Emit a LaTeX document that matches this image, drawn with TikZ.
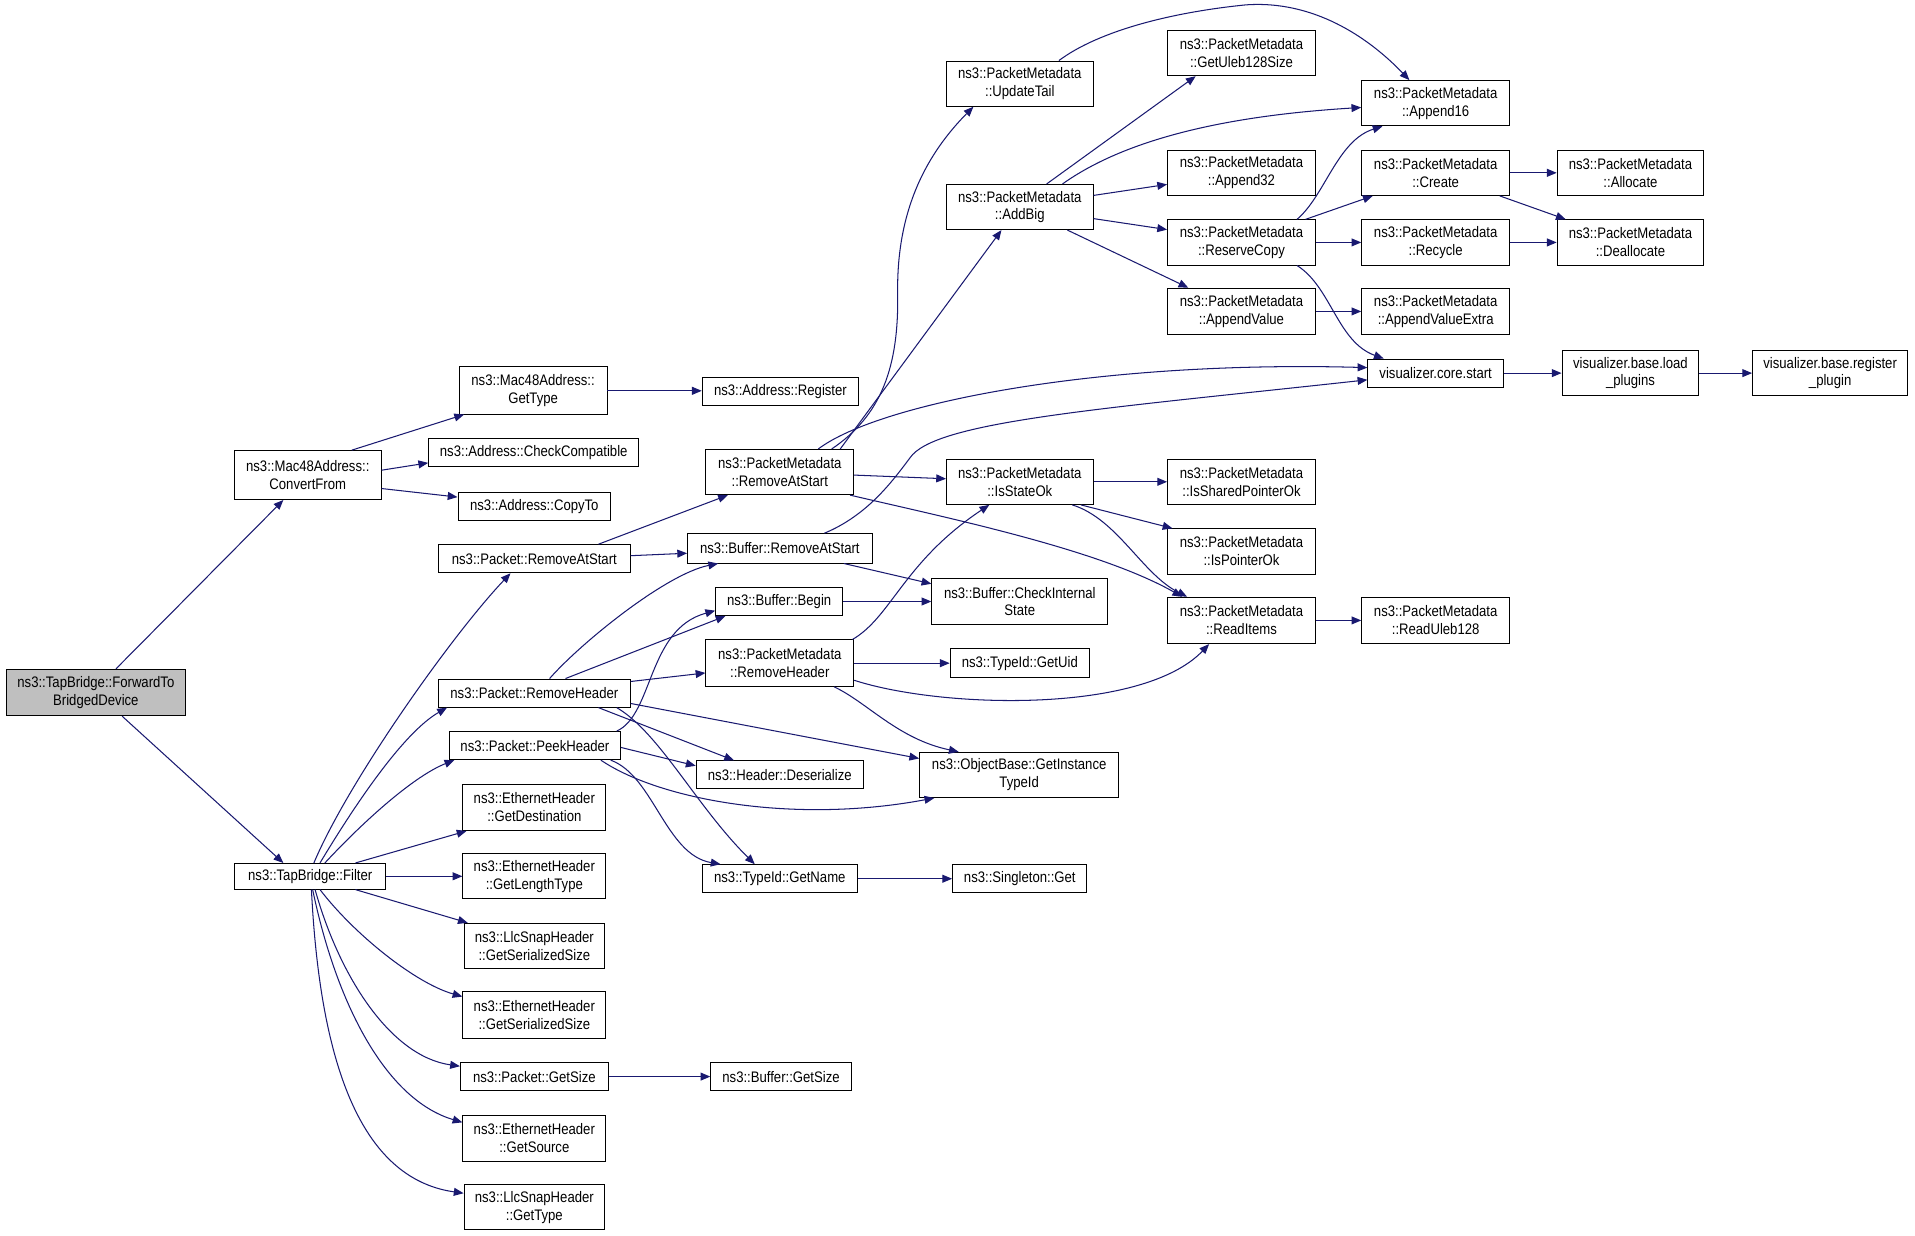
\documentclass[tikz,border=0pt]{standalone}
\usepackage{fontspec}
\setmainfont{Liberation Sans}[FakeStretch=0.86]
\usetikzlibrary{arrows.meta}
\definecolor{edgeblue}{RGB}{25,25,112}
\definecolor{rootgray}{RGB}{191,191,191}
\newcommand\mynode[7][]{\node[nbox, #1, minimum width={(#5-#3)*1pt}, minimum height={(#6-#4)*1pt}] (#2) at ({(#3+#5)/2},{(#4+#6)/2}) {#7};}
\begin{document}
\begin{tikzpicture}[x=1pt,y=-1pt,
  nbox/.style={draw=black, line width=0.8pt, fill=white, inner sep=0pt, align=center, font=\fontsize{12.5}{14.6}\selectfont},
  arr/.style={draw=edgeblue, line width=0.85pt, -{Triangle[length=8pt,width=6.5pt]}}]
\fill[white] (0,0) rectangle (1568,1011.3);
\useasboundingbox (0,0) rectangle (1568,1011.3);
% column 0-1
\mynode[fill=rootgray]{root}{5}{548}{152}{586}{ns3::TapBridge::ForwardTo\\BridgedDevice}
\mynode{convfrom}{192}{369}{312}{409}{ns3::Mac48Address::\\ConvertFrom}
\mynode{filter}{192}{707}{316}{728}{ns3::TapBridge::Filter}
% column 2
\mynode{gettype}{376}{300}{497}{339}{ns3::Mac48Address::\\GetType}
\mynode{checkcomp}{351}{359}{523}{382}{ns3::Address::CheckCompatible}
\mynode{copyto}{375}{403}{500}{426}{ns3::Address::CopyTo}
\mynode{pktras}{359}{446}{516}{469}{ns3::Packet::RemoveAtStart}
\mynode{pktrh}{359}{556}{516}{579}{ns3::Packet::RemoveHeader}
\mynode{peek}{368}{599}{508}{622}{ns3::Packet::PeekHeader}
\mynode{getdest}{379}{642}{496}{680}{ns3::EthernetHeader\\::GetDestination}
\mynode{getlen}{379}{699}{496}{736}{ns3::EthernetHeader\\::GetLengthType}
\mynode{llcser}{380}{756}{495}{793}{ns3::LlcSnapHeader\\::GetSerializedSize}
\mynode{ethser}{379}{812}{496}{850}{ns3::EthernetHeader\\::GetSerializedSize}
\mynode{getsize}{377}{870}{498}{893}{ns3::Packet::GetSize}
\mynode{getsrc}{379}{913}{496}{951}{ns3::EthernetHeader\\::GetSource}
\mynode{llctype}{380}{970}{495}{1007}{ns3::LlcSnapHeader\\::GetType}
% column 3
\mynode{register}{575}{309}{703}{332}{ns3::Address::Register}
\mynode{pmras}{578}{368}{699}{405}{ns3::PacketMetadata\\::RemoveAtStart}
\mynode{bufras}{563}{437}{714}{461}{ns3::Buffer::RemoveAtStart}
\mynode{begin}{586}{481}{690}{504}{ns3::Buffer::Begin}
\mynode{pmrh}{578}{524}{699}{562}{ns3::PacketMetadata\\::RemoveHeader}
\mynode{deser}{570}{623}{707}{646}{ns3::Header::Deserialize}
\mynode{getname}{575}{708}{702}{731}{ns3::TypeId::GetName}
\mynode{bufgetsize}{582}{870}{697}{893}{ns3::Buffer::GetSize}
% column 4
\mynode{updtail}{775}{50}{895}{87}{ns3::PacketMetadata\\::UpdateTail}
\mynode{addbig}{775}{151}{895}{188}{ns3::PacketMetadata\\::AddBig}
\mynode{isstate}{775}{376}{895}{413}{ns3::PacketMetadata\\::IsStateOk}
\mynode{checkint}{763}{474}{907}{511}{ns3::Buffer::CheckInternal\\State}
\mynode{getuid}{778}{531}{892}{555}{ns3::TypeId::GetUid}
\mynode{getinst}{753}{616}{916}{653}{ns3::ObjectBase::GetInstance\\TypeId}
\mynode{singleton}{780}{708}{890}{731}{ns3::Singleton::Get}
% column 5
\mynode{uleb}{956}{25}{1077}{62}{ns3::PacketMetadata\\::GetUleb128Size}
\mynode{app32}{956}{123}{1077}{160}{ns3::PacketMetadata\\::Append32}
\mynode{reserve}{956}{180}{1077}{217}{ns3::PacketMetadata\\::ReserveCopy}
\mynode{appval}{956}{236}{1077}{274}{ns3::PacketMetadata\\::AppendValue}
\mynode{issp}{956}{376}{1077}{413}{ns3::PacketMetadata\\::IsSharedPointerOk}
\mynode{isp}{956}{433}{1077}{470}{ns3::PacketMetadata\\::IsPointerOk}
\mynode{readitems}{956}{489}{1077}{527}{ns3::PacketMetadata\\::ReadItems}
% column 6
\mynode{app16}{1115}{66}{1236}{103}{ns3::PacketMetadata\\::Append16}
\mynode{create}{1115}{123}{1236}{160}{ns3::PacketMetadata\\::Create}
\mynode{recycle}{1115}{180}{1236}{217}{ns3::PacketMetadata\\::Recycle}
\mynode{appvalx}{1115}{236}{1236}{274}{ns3::PacketMetadata\\::AppendValueExtra}
\mynode{corestart}{1120}{294}{1231}{317}{visualizer.core.start}
\mynode{readuleb}{1115}{489}{1236}{527}{ns3::PacketMetadata\\::ReadUleb128}
% column 7-8
\mynode{alloc}{1275}{123}{1395}{160}{ns3::PacketMetadata\\::Allocate}
\mynode{dealloc}{1275}{180}{1395}{217}{ns3::PacketMetadata\\::Deallocate}
\mynode{load}{1279}{287}{1391}{324}{visualizer.base.load\\\_plugins}
\mynode{regplug}{1435}{287}{1562}{324}{visualizer.base.register\\\_plugin}

% edges
\draw[arr] (root.north -| 95,0) -- (convfrom.south -| 232,0);
\draw[arr] (root.south -| 100,0) -- (filter.north -| 232,0);
\draw[arr] (convfrom.north -| 288,0) -- (gettype.south -| 380,0);
\draw[arr] (convfrom.east |- 0,385) -- (checkcomp.west |- 0,379);
\draw[arr] (convfrom.east |- 0,400) -- (copyto.west |- 0,407);
\draw[arr] (gettype.east |- 0,320) -- (register.west |- 0,320);

\draw[arr] (filter.north -| 257,0) .. controls (285,640) and (370,520) .. (pktras.south -| 418,0);
\draw[arr] (filter.north -| 262,0) .. controls (290,660) and (330,600) .. (pktrh.south -| 366,0);
\draw[arr] (filter.north -| 266,0) .. controls (300,670) and (340,635) .. (peek.south -| 372,0);
\draw[arr] (filter.north -| 291,0) -- (getdest.south -| 382,0);
\draw[arr] (filter.east) -- (getlen.west |- filter.east);
\draw[arr] (filter.south -| 291,0) -- (llcser.north -| 383,0);
\draw[arr] (filter.south -| 262,0) .. controls (290,765) and (340,805) .. (ethser.west |- 0,816);
\draw[arr] (filter.south -| 258,0) .. controls (278,800) and (320,865) .. (getsize.west |- 0,873);
\draw[arr] (filter.south -| 256,0) .. controls (275,820) and (315,900) .. (getsrc.west |- 0,919);
\draw[arr] (filter.south -| 255,0) .. controls (262,870) and (295,965) .. (llctype.west |- 0,977);

\draw[arr] (pktras.north -| 490,0) -- (pmras.south -| 596,0);
\draw[arr] (pktras.east |- 0,455) -- (bufras.west |- 0,453);

\draw[arr] (pktrh.north -| 450,0) .. controls (475,527) and (545,470) .. (bufras.south -| 588,0);
\draw[arr] (pktrh.north -| 463,0) -- (begin.south -| 594,0);
\draw[arr] (pktrh.east |- 0,558) -- (pmrh.west |- 0,551);
\draw[arr] (pktrh.east |- 0,576) -- (getinst.west |- 0,621);
\draw[arr] (pktrh.south -| 490,0) -- (deser.north -| 601,0);
\draw[arr] (pktrh.south -| 505,0) .. controls (540,600) and (570,660) .. (getname.north -| 618,0);

\draw[arr] (peek.north -| 505,0) .. controls (535,585) and (530,515) .. (begin.west |- 0,500);
\draw[arr] (peek.east |- 0,612) -- (deser.west |- 0,627);
\draw[arr] (peek.south -| 492,0) .. controls (540,655) and (650,675) .. (getinst.south -| 765,0);
\draw[arr] (peek.south -| 500,0) .. controls (535,635) and (545,700) .. (getname.north -| 590,0);

\draw[arr] (getsize) -- (bufgetsize);

\draw[arr] (pmras.north -| 681,0) .. controls (722,340) and (736,300) .. (735,240) .. controls (734,170) and (760,125) .. (updtail.south -| 797,0);
\draw[arr] (pmras.north -| 688,0) -- (addbig.south -| 820,0);
\draw[arr] (pmras.north -| 670,0) .. controls (720,330) and (900,295) .. (corestart.west |- 0,301);
\draw[arr] (pmras.east |- 0,389) -- (isstate.west |- 0,392);
\draw[arr] (pmras.south -| 696,0) .. controls (780,425) and (900,450) .. (readitems.north -| 968,0);

\draw[arr] (bufras.north -| 675,0) .. controls (710,422) and (730,395) .. (745,375) .. controls (765,345) and (900,335) .. (corestart.west |- 0,311);
\draw[arr] (bufras.south -| 691,0) -- (checkint.west |- 0,478);
\draw[arr] (begin) -- (checkint);

\draw[arr] (pmrh.north -| 698,0) .. controls (730,505) and (740,460) .. (isstate.south -| 810,0);
\draw[arr] (pmrh) -- (getuid);
\draw[arr] (pmrh.east |- 0,557) .. controls (770,580) and (935,585) .. (readitems.south -| 990,0);
\draw[arr] (pmrh.south -| 683,0) .. controls (710,575) and (735,605) .. (getinst.north -| 785,0);

\draw[arr] (getname) -- (singleton);

\draw[arr] (isstate) -- (issp);
\draw[arr] (isstate.south -| 885,0) -- (isp.north -| 960,0);
\draw[arr] (isstate.south -| 878,0) .. controls (915,425) and (935,470) .. (readitems.north -| 972,0);

\draw[arr] (updtail.north -| 867,0) .. controls (900,25) and (960,10) .. (1020,4) .. controls (1075,0) and (1120,30) .. (app16.north -| 1154,0);
\draw[arr] (addbig.north -| 857,0) -- (uleb.south -| 979,0);
\draw[arr] (addbig.north -| 870,0) .. controls (920,115) and (1000,95) .. (app16.west |- 0,88);
\draw[arr] (addbig.east |- 0,160) -- (app32.west |- 0,151);
\draw[arr] (addbig.east |- 0,179) -- (reserve.west |- 0,188);
\draw[arr] (addbig.south -| 874,0) -- (appval.north -| 973,0);
\draw[arr] (reserve.north -| 1062,0) .. controls (1085,160) and (1095,115) .. (app16.south -| 1132,0);
\draw[arr] (reserve.north -| 1069,0) -- (create.south -| 1124,0);
\draw[arr] (reserve) -- (recycle);
\draw[arr] (reserve.south -| 1062,0) .. controls (1090,235) and (1095,280) .. (corestart.north -| 1133,0);
\draw[arr] (create) -- (alloc);
\draw[arr] (create.south -| 1228,0) -- (dealloc.north -| 1282,0);
\draw[arr] (recycle) -- (dealloc);
\draw[arr] (appval) -- (appvalx);
\draw[arr] (corestart) -- (load);
\draw[arr] (load) -- (regplug);
\draw[arr] (readitems) -- (readuleb);
\end{tikzpicture}
\end{document}
